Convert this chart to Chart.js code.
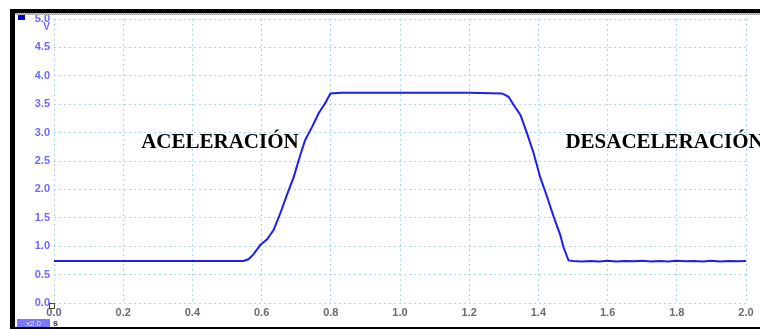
<!DOCTYPE html>
<html>
<head>
<meta charset="utf-8">
<script src="https://cdn.jsdelivr.net/npm/chart.js@4/dist/chart.umd.min.js"></script>
<style>
  html, body { margin: 0; padding: 0; background: #ffffff; }
  #wrap { position: relative; width: 760px; height: 329px; }
</style>
</head>
<body>
<div id="wrap"><canvas id="c" width="760" height="329"></canvas></div>
<script>
// Time (s) and voltage (V) samples of the trace
const timeS = [
  0.00, 0.10, 0.20, 0.30, 0.40, 0.50, 0.547, 0.562, 0.577, 0.596, 0.616, 0.635,
  0.654, 0.673, 0.693, 0.712, 0.726, 0.746, 0.765, 0.784, 0.799, 0.83,
  1.00, 1.20, 1.295, 1.314, 1.328, 1.348, 1.367, 1.386, 1.405, 1.425, 1.444,
  1.463, 1.472, 1.487, 1.50, 1.525, 1.55, 1.575, 1.60, 1.625, 1.65, 1.675,
  1.70, 1.725, 1.75, 1.775, 1.80, 1.825, 1.85, 1.875, 1.90, 1.925, 1.95, 1.975, 2.00
];
const voltsV = [
  0.74, 0.74, 0.74, 0.74, 0.74, 0.74, 0.74, 0.77, 0.86, 1.02, 1.12, 1.29,
  1.58, 1.90, 2.22, 2.61, 2.87, 3.10, 3.34, 3.52, 3.69, 3.70,
  3.70, 3.70, 3.69, 3.63, 3.49, 3.31, 2.99, 2.64, 2.22, 1.87, 1.52,
  1.20, 0.99, 0.75, 0.74, 0.73, 0.74, 0.73, 0.745, 0.73, 0.74, 0.735,
  0.745, 0.73, 0.74, 0.73, 0.745, 0.735, 0.74, 0.73, 0.745, 0.73, 0.74, 0.735, 0.74
];

// Phase labels placed in data coordinates (s, V)
const phaseLabels = [
  { text: 'ACELERACIÓN', t: 0.252, v: 2.83 },
  { text: 'DESACELERACIÓN', t: 1.478, v: 2.83 }
];

const xMin = 0, xMax = 2.0, xStep = 0.2;
const yMin = 0, yMax = 5.0, yStep = 0.5;

const gridColor = '#a9d9ec';

const decorations = {
  id: 'scopeDecor',
  afterDraw(chart) {
    const ctx = chart.ctx;
    const xs = chart.scales.x, ys = chart.scales.y;
    ctx.save();

    // phase annotations
    ctx.fillStyle = '#000000';
    ctx.font = 'bold 21px "Liberation Serif", "Times New Roman", serif';
    ctx.textBaseline = 'middle';
    ctx.textAlign = 'left';
    phaseLabels.forEach(p => {
      ctx.fillText(p.text, xs.getPixelForValue(p.t), ys.getPixelForValue(p.v));
    });

    // unit under top tick
    ctx.fillStyle = '#6a6aff';
    ctx.font = 'bold 10px "Liberation Sans", Arial, sans-serif';
    ctx.textAlign = 'right';
    ctx.fillText('V', 50, 27);

    // channel marker
    ctx.fillStyle = '#0000c8';
    ctx.fillRect(18, 15, 7, 5);

    // origin marker
    ctx.strokeStyle = '#444444';
    ctx.lineWidth = 1;
    ctx.strokeRect(49.5, 303.5, 5, 5);

    // zoom badge and time unit
    ctx.fillStyle = '#7878ff';
    ctx.fillRect(17, 319, 33, 8);
    ctx.fillStyle = '#e8e8ff';
    ctx.font = '8px "Liberation Sans", Arial, sans-serif';
    ctx.textAlign = 'center';
    ctx.fillText('x2.0', 33.5, 323.5);
    ctx.fillStyle = '#333333';
    ctx.font = 'bold 9px "Liberation Sans", Arial, sans-serif';
    ctx.textAlign = 'left';
    ctx.fillText('s', 53, 323.5);

    // window frame
    ctx.fillStyle = '#000000';
    ctx.fillRect(10, 9, 5, 320);
    ctx.fillRect(10, 9, 750, 4);
    ctx.fillRect(10, 327, 750, 2);
    for (let x = 15; x < 760; x += 2) {
      ctx.fillStyle = '#9a9a9a';
      ctx.fillRect(x, 13, 1, 1);
      ctx.fillRect(x + 1, 14, 1, 1);
      ctx.fillStyle = '#d0d0d0';
      ctx.fillRect(x + 1, 13, 1, 1);
      ctx.fillRect(x, 14, 1, 1);
    }
    ctx.restore();
  }
};

new Chart(document.getElementById('c'), {
  type: 'line',
  data: {
    datasets: [{
      data: timeS.map((t, i) => ({ x: t, y: voltsV[i] })),
      borderColor: '#1e1ef0',
      borderWidth: 2,
      pointRadius: 0,
      tension: 0,
      fill: false
    }]
  },
  options: {
    responsive: false,
    animation: false,
    events: [],
    layout: { padding: { left: 0, right: 14, top: 19, bottom: 0 } },
    plugins: { legend: { display: false }, tooltip: { enabled: false } },
    scales: {
      x: {
        type: 'linear',
        min: xMin, max: xMax,
        afterFit(s) { s.height = 26; },
        ticks: {
          stepSize: xStep,
          padding: 3,
          maxRotation: 0,
          color: '#6a6a78',
          font: { family: '"Liberation Sans", Arial, sans-serif', size: 11, weight: 'bold' },
          callback: v => Number(v).toFixed(1)
        },
        grid: { color: gridColor, lineWidth: 1, drawTicks: false },
        border: { display: false, dash: [2, 3] }
      },
      y: {
        type: 'linear',
        min: yMin, max: yMax,
        afterFit(s) { s.width = 54; },
        ticks: {
          stepSize: yStep,
          padding: 4,
          color: '#6a6aff',
          font: { family: '"Liberation Sans", Arial, sans-serif', size: 11, weight: 'bold' },
          callback: v => Number(v).toFixed(1)
        },
        grid: { color: gridColor, lineWidth: 1, drawTicks: false },
        border: { display: false, dash: [2, 3] }
      }
    }
  },
  plugins: [decorations]
});
</script>
</body>
</html>
